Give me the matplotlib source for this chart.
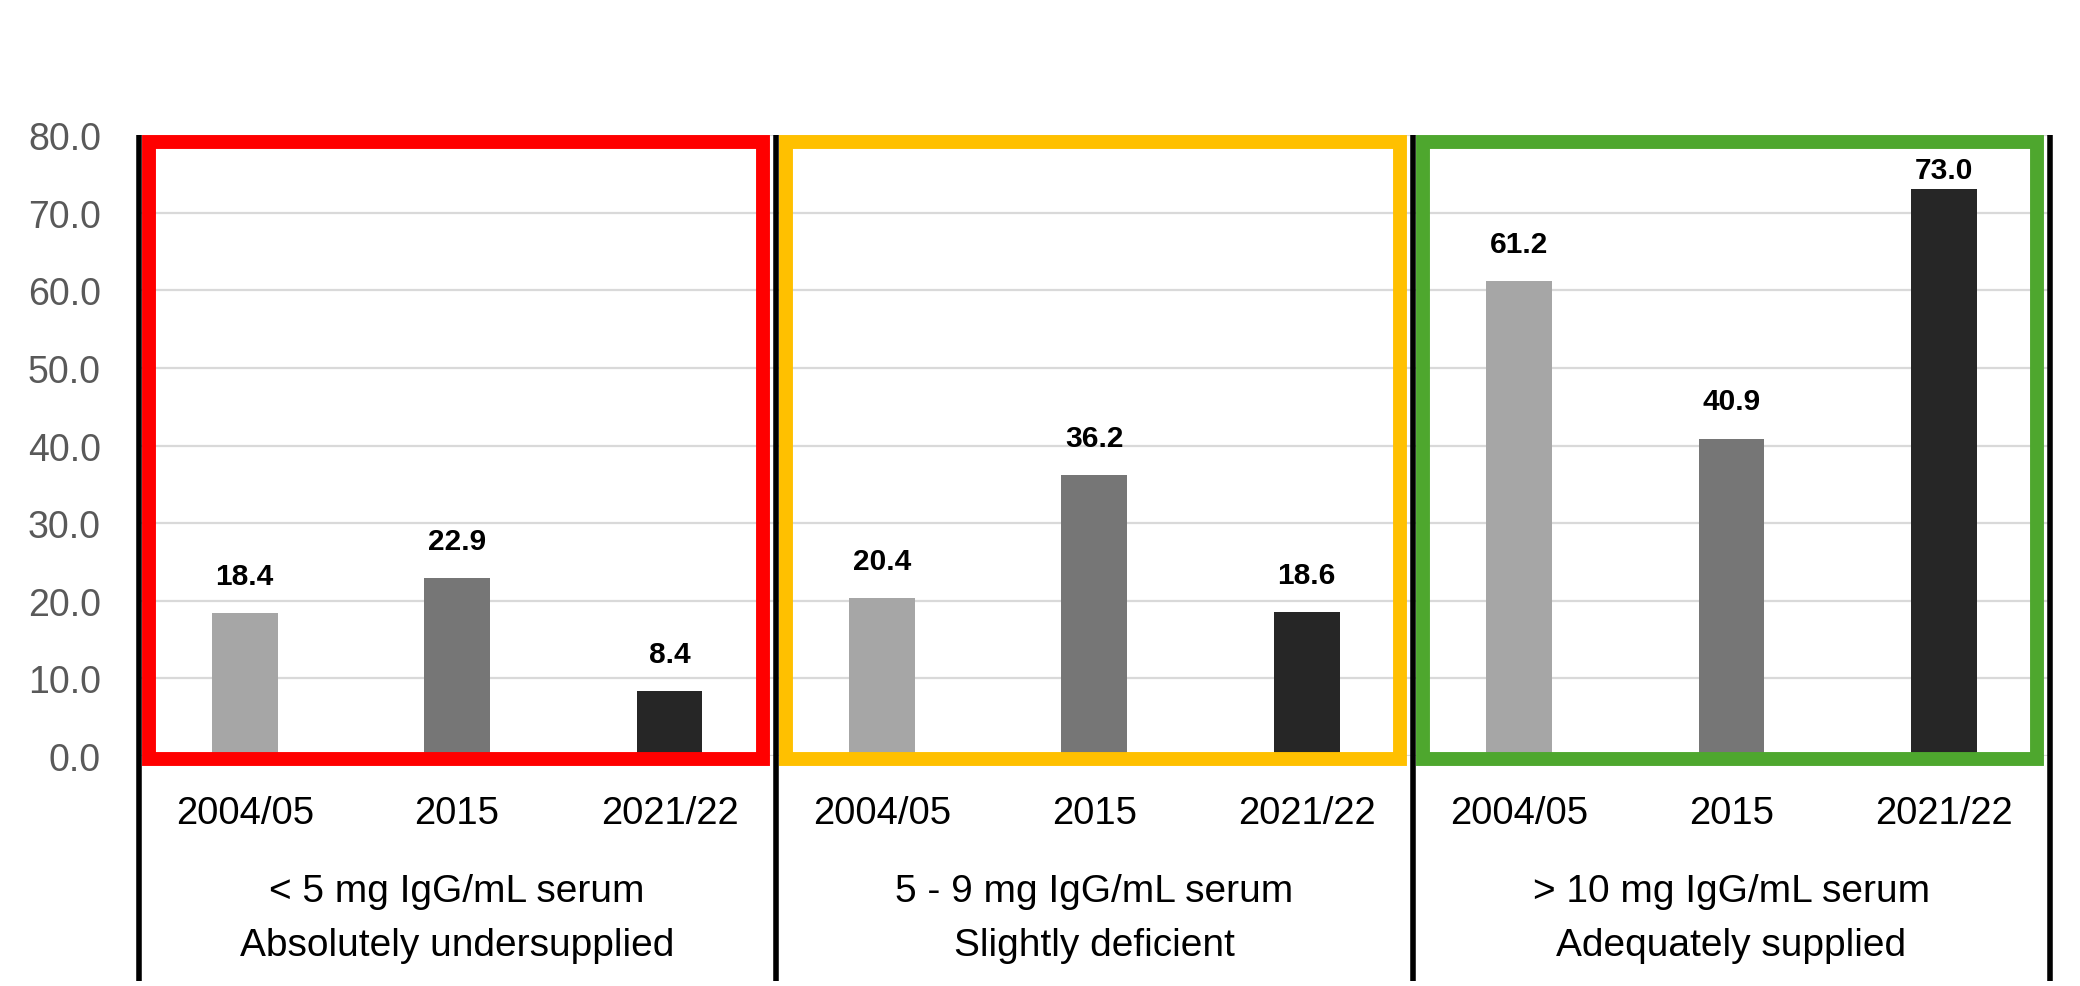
import matplotlib.pyplot as plt
from matplotlib.patches import Rectangle
from matplotlib.transforms import blended_transform_factory

# data
years = ['2004/05', '2015', '2021/22']
ranges = ['< 5 mg IgG/mL serum', '5 - 9 mg IgG/mL serum', '> 10 mg IgG/mL serum']
status = ['Absolutely undersupplied', 'Slightly deficient', 'Adequately supplied']
vals_2004 = [18.4, 20.4, 61.2]
vals_2015 = [22.9, 36.2, 40.9]
vals_2021 = [8.4, 18.6, 73.0]

bar_colors = ['#A6A6A6', '#767676', '#262626']
box_colors = ['#FF0000', '#FFC000', '#4EA72E']

plt.rcParams['font.family'] = ['Liberation Sans', 'DejaVu Sans']

fig = plt.figure(figsize=(20.8, 9.87), dpi=100)
ax = fig.add_axes([0.0666, 0.2330, 0.9190, 0.6292])

series = [vals_2004, vals_2015, vals_2021]
for i, vals in enumerate(series):
    xs = [3 * g + i for g in range(len(vals))]
    ax.bar(xs, vals, width=0.31, color=bar_colors[i], zorder=2)
    for x, v in zip(xs, vals):
        # label sits above the bar, pushed down when it would hit the frame
        ax.text(x, min(v + 3.75, 74.4), f'{v:.1f}', ha='center', va='baseline',
                fontsize=21.5, fontweight='bold', color='black', zorder=4)

ax.set_xlim(-0.5, 8.5)
ax.set_ylim(0, 80)
ax.set_yticks(range(0, 81, 10))
ax.set_yticklabels([f'{t:.1f}' for t in range(0, 81, 10)], fontsize=27, color='#595959')
ax.tick_params(axis='y', length=0, pad=27)
ax.set_xticks([])
ax.grid(axis='y', color='#D9D9D9', linewidth=1.6, zorder=0)
ax.set_axisbelow(True)
for s in ax.spines.values():
    s.set_visible(False)

# coloured frames around each group
for g in range(3):
    ax.add_patch(Rectangle((3 * g - 0.45, -0.4), 2.89, 79.5, fill=False,
                           edgecolor=box_colors[g], linewidth=10, zorder=3,
                           clip_on=False, joinstyle='miter'))

# category labels below the axis
trans = blended_transform_factory(ax.transData, ax.transAxes)
for g in range(3):
    for i, y in enumerate(years):
        ax.text(3 * g + i, -0.1071, y, transform=trans, ha='center', va='baseline',
                fontsize=27.5, color='black')
    ax.text(3 * g + 1, -0.2342, ranges[g], transform=trans, ha='center', va='baseline',
            fontsize=28, color='black')
    ax.text(3 * g + 1, -0.3210, status[g], transform=trans, ha='center', va='baseline',
            fontsize=28, color='black')

# black separator lines of the category axis
for x in [-0.5, 2.5, 5.5, 8.5]:
    ax.plot([x, x], [-0.362, 1.0], transform=trans, color='black',
            linewidth=4, clip_on=False, zorder=1, solid_capstyle='butt')

fig.savefig('out.png', dpi=100)
